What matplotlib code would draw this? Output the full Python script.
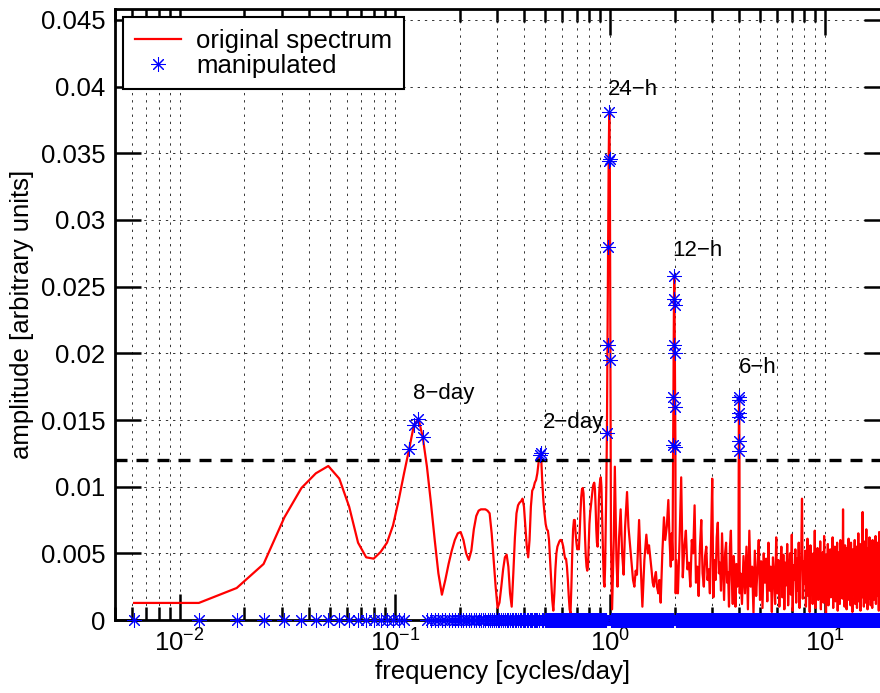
import numpy as np
import matplotlib
matplotlib.use("Agg")
import matplotlib.pyplot as plt
from matplotlib.ticker import LogLocator, FixedLocator, FixedFormatter, NullFormatter

plt.rcParams["font.family"] = ["Liberation Sans", "DejaVu Sans"]
plt.rcParams["mathtext.fontset"] = "custom"
plt.rcParams["mathtext.rm"] = "Liberation Sans"
plt.rcParams["mathtext.it"] = "Liberation Sans:italic"
plt.rcParams["mathtext.bf"] = "Liberation Sans:bold"

# FFT bin spacing (cycles/day) and number of bins shown
df = 1.0 / 163
n_bins = 3260
threshold = 0.012
amp_unit = 1e-4  # amplitudes below are typed in units of 1e-4

# low-frequency part, every bin k = 1..157
low_amp = [
    12.8, 12.8, 24, 42, 77, 99, 110, 115.5, 106, 85,
    58, 47, 46, 51, 58, 71, 90, 110, 128, 146,
    151, 137, 115, 88, 60, 35, 19, 30, 42, 52,
    60, 65, 66, 60, 50, 45, 52, 68, 78, 82,
    83, 83, 83, 82, 80, 65, 45, 25, 9, 13,
    25, 38, 47, 49, 40, 20, 10, 35, 62, 80,
    86, 88, 89, 91, 85, 70, 55, 47, 60, 85,
    97, 99, 103, 105, 110, 118, 124, 125, 105, 90,
    80, 72, 68, 67, 60, 45, 30, 15, 7, 20,
    38, 50, 55, 57, 59, 60, 60, 58, 55, 50,
    46, 46, 40, 30, 18, 8, 5, 25, 50, 68,
    75, 75, 65, 58, 53, 55, 53, 65, 80, 92,
    98, 99, 95, 80, 62, 48, 40, 37, 40, 55,
    72, 80, 85, 90, 95, 100, 102, 103, 98, 85,
    68, 58, 55, 70, 90, 100, 105, 107, 100, 80,
    60, 42, 28, 25, 40, 70, 100,
]

# 24-h peak, bins 158..164
p24_bins = [158, 159, 160, 161, 162, 163, 164]
p24_amp = [140, 206, 280, 344, 381, 346, 195]

# between 1 and 2 cycles/day
mid_bins = [165, 167, 170, 172, 175, 177, 180, 183, 186, 189, 192, 196, 199,
            202, 206, 209, 212, 215, 218, 223, 227, 231, 236, 241, 245, 248,
            252, 255, 258, 261, 264, 267, 270, 274, 277, 281, 286, 291, 295,
            300, 305, 309, 313, 316, 319]
mid_amp = [60, 8, 60, 115, 45, 25, 62, 83, 50, 34, 70, 96, 70,
           58, 43, 30, 25, 37, 34, 75, 40, 10, 45, 64, 50, 56,
           45, 37, 28, 25, 32, 36, 25, 20, 30, 13, 50, 77, 60,
           70, 90, 60, 40, 65, 45]

# 12-h peak
p12_bins = [321, 322, 323, 324, 325, 326, 327, 328, 329, 330]
p12_amp = [131, 167, 206, 241, 258, 236, 200, 160, 130, 20]

# 2..4 cycles/day, every 6th bin from 332
seg_a_amp = [
    45, 20, 60, 107, 32, 55, 67, 38, 43, 25,
    60, 50, 86, 28, 40, 18, 55, 75, 35, 25,
    48, 55, 30, 38, 20, 60, 106, 17, 45, 30,
    62, 73, 35, 43, 22, 65, 40, 15, 50, 58,
    28, 36, 10, 55, 67, 30, 12, 48, 38, 10,
    42, 25, 30,
]

# 6-h peak
p6_bins = [646, 648, 649, 650, 651, 652, 653, 655]
p6_amp = [35, 127, 152, 165, 167, 155, 134, 20]

# above 4 cycles/day, every 11th bin from 660
seg_b_amp = [
    35, 12, 48, 20, 55, 8, 67, 25, 40, 5, 52, 18, 38, 60, 15, 44, 9, 50, 28, 46,
    14, 58, 22, 40, 6, 47, 33, 12, 62, 20, 45, 10, 38, 55, 17, 49, 8, 43, 26, 57,
    11, 36, 50, 19, 64, 7, 41, 30, 53, 13, 46, 22, 58, 9, 39, 48, 91, 16, 44, 27,
    52, 10, 37, 61, 18, 45, 6, 56, 29, 42, 12, 50, 24, 67, 9, 40, 33, 54, 15, 47,
    21, 59, 8, 44, 36, 51, 13, 63, 27, 38, 5, 49, 31, 57, 11, 42, 25, 53, 17, 46,
    30, 62, 9, 41, 20, 55, 14, 48, 35, 58, 7, 44, 26, 51, 12, 60, 19, 39, 52, 16,
    83, 24, 45, 10, 56, 33, 47, 8, 54, 21, 43, 61, 15, 37, 50, 11, 58, 28, 42, 6,
    53, 19, 46, 35, 60, 12, 40, 27, 55, 9, 48, 31, 65, 14, 44, 22, 57, 7, 50, 36,
    43, 17, 81, 25, 52, 10, 47, 33, 59, 13, 41, 68, 20, 45, 8, 54, 30, 49, 16, 62,
    24, 46, 11, 55, 37, 50, 9, 60, 28, 43, 15, 57, 21, 48, 34, 63, 12, 40, 26, 53,
    18, 58, 31, 45, 7, 66, 23, 49, 13, 52, 39, 44, 10, 61, 27, 47, 16, 56, 35, 42,
    9, 59, 25, 50, 14, 64, 30, 46, 12, 55, 38, 48, 20, 57, 11, 43, 33,
]

peak_labels = ["8\u2212day", "2\u2212day", "24\u2212h", "12\u2212h", "6\u2212h"]
label_freq = [0.121, 0.488, 0.979, 1.945, 3.99]
label_amp = [0.0170, 0.0148, 0.0398, 0.0277, 0.0189]

yticks = [0, 0.005, 0.01, 0.015, 0.02, 0.025, 0.03, 0.035, 0.04, 0.045]
ytick_labels = ["0", "0.005", "0.01", "0.015", "0.02", "0.025", "0.03",
                "0.035", "0.04", "0.045"]

# assemble the spectrum vertices
seg_a_bins = list(range(332, 332 + 6 * len(seg_a_amp), 6))
seg_b_bins = list(range(660, 660 + 11 * len(seg_b_amp), 11))
red_bins = np.array(list(range(1, len(low_amp) + 1)) + p24_bins + mid_bins
                    + p12_bins + seg_a_bins + p6_bins + seg_b_bins)
red_amp = np.array(low_amp + p24_amp + mid_amp + p12_amp + seg_a_amp
                   + p6_amp + seg_b_amp) * amp_unit
order = np.argsort(red_bins)
red_bins, red_amp = red_bins[order], red_amp[order]
red_freq = red_bins * df

all_freq = np.arange(1, n_bins + 1) * df
full_amp = np.zeros(n_bins)
full_amp[red_bins - 1] = red_amp
manip = np.where(full_amp > threshold, full_amp, 0.0)

fs = 18.5
fig = plt.figure(figsize=(8.8, 6.93), dpi=100)
ax = fig.add_axes([115 / 880, 73 / 693, 774.6 / 880, 611 / 693])

ax.plot(red_freq, red_amp, color="red", lw=1.6, label="original spectrum", zorder=3)
ax.plot(all_freq, manip, ls="none", marker=(8, 2, 0), ms=10.5, mec="blue",
        mew=0.75, color="blue", label="manipulated", clip_on=False, zorder=5)
ax.axhline(threshold, color="black", lw=2.4, ls=(0, (3.6, 2.7)), zorder=4)

for lab, fx, fy in zip(peak_labels, label_freq, label_amp):
    ax.text(fx, fy, lab, fontsize=16, ha="left", va="center")

ax.set_xscale("log")
ax.set_xlim(0.005, 20)
ax.set_ylim(0, 0.045 * 611 / 600)
ax.xaxis.set_major_locator(LogLocator(base=10, numticks=10))
ax.xaxis.set_minor_locator(LogLocator(base=10, subs=np.arange(2, 10), numticks=100))
ax.xaxis.set_minor_formatter(NullFormatter())
ax.yaxis.set_major_locator(FixedLocator(yticks))
ax.yaxis.set_major_formatter(FixedFormatter(ytick_labels))

grid_style = dict(color="0.2", lw=0.7, ls=(0, (2.4, 5)))
ax.xaxis.grid(True, which="both", **grid_style)
ax.yaxis.grid(True, which="major", **grid_style)
ax.set_axisbelow(True)

ax.tick_params(which="both", direction="in", top=True, right=True,
               labelsize=fs, width=1.8)
ax.tick_params(which="major", length=19, pad=7)
ax.tick_params(which="minor", length=9.5)
for sp in ax.spines.values():
    sp.set_linewidth(2.0)

ax.set_xlabel("frequency [cycles/day]", fontsize=fs, labelpad=2)
ax.set_ylabel("amplitude [arbitrary units]", fontsize=fs, labelpad=5)

leg = ax.legend(loc="upper left", bbox_to_anchor=(0.0103, 0.987), borderaxespad=0,
                fontsize=fs, fancybox=False, framealpha=1, edgecolor="black",
                handlelength=1.8, handletextpad=0.6, borderpad=0.45,
                labelspacing=0.05)
leg.get_frame().set_linewidth(1.5)

fig.savefig("out.png", dpi=100)
